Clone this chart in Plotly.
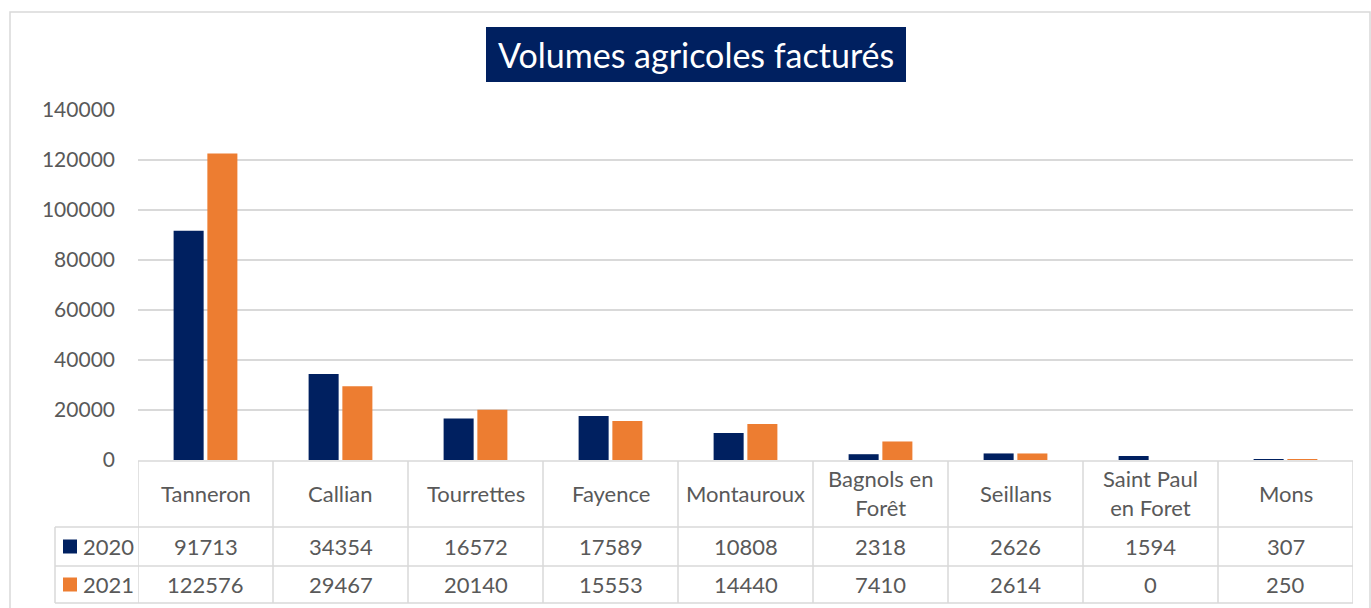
import plotly.graph_objects as go

# Data
communes = ["Tanneron", "Callian", "Tourrettes", "Fayence", "Montauroux",
            "Bagnols en<br>Forêt", "Seillans", "Saint Paul<br>en Foret", "Mons"]
years = ["2020", "2021"]
vol_2020 = [91713, 34354, 16572, 17589, 10808, 2318, 2626, 1594, 307]
vol_2021 = [122576, 29467, 20140, 15553, 14440, 7410, 2614, 0, 250]
y_ticks = [0, 20000, 40000, 60000, 80000, 100000, 120000, 140000]

NAVY = "#002060"
ORANGE = "#ED7D31"
GRID = "#D9D9D9"
TEXT = "#595959"
FONT = "Lato"

W, H = 1371, 608
L, R, T, B = 138, 18, 110, 148
PW, PH = W - L - R, H - T - B


def px(x):
    return (x - L) / PW


def py(y):
    return (H - B - y) / PH


cats = list(range(len(communes)))

fig = go.Figure()
fig.add_trace(go.Bar(x=cats, y=vol_2020, name=years[0], marker_color=NAVY,
                     marker_line_width=0))
fig.add_trace(go.Bar(x=cats, y=vol_2021, name=years[1], marker_color=ORANGE,
                     marker_line_width=0))

shapes = []
annotations = []

# Chart frame
shapes.append(dict(type="rect", xref="paper", yref="paper",
                   x0=px(10), x1=px(1370), y0=py(640), y1=py(12),
                   line=dict(color=GRID, width=1.5), layer="below"))

# Title box
shapes.append(dict(type="rect", xref="paper", yref="paper",
                   x0=px(486), x1=px(906), y0=py(82), y1=py(27),
                   fillcolor=NAVY, line=dict(width=0)))
annotations.append(dict(text="Volumes agricoles facturés", xref="paper", yref="paper",
                        x=px(696), y=py(55), showarrow=False,
                        font=dict(family=FONT, size=34, color="white"),
                        xanchor="center", yanchor="middle"))

# Data table grid
line = dict(color=GRID, width=1.5)
row_top, row_hdr, row_a, row_b = 461, 527, 566, 603
col_left, leg_left = 138, 55
shapes.append(dict(type="line", xref="paper", yref="paper",
                   x0=px(col_left), x1=1, y0=py(row_top), y1=py(row_top), line=line))
for yy in (row_hdr, row_a, row_b):
    shapes.append(dict(type="line", xref="paper", yref="paper",
                       x0=px(leg_left), x1=1, y0=py(yy), y1=py(yy), line=line))
shapes.append(dict(type="line", xref="paper", yref="paper",
                   x0=px(leg_left), x1=px(leg_left), y0=py(row_hdr), y1=py(row_b), line=line))
for i in range(len(communes) + 1):
    shapes.append(dict(type="line", xref="x", yref="paper",
                       x0=i - 0.5, x1=i - 0.5, y0=py(row_top), y1=py(row_b), line=line))

tfont = dict(family=FONT, size=22, color=TEXT)
for i, name in enumerate(communes):
    annotations.append(dict(text=name, xref="x", yref="paper", x=i, y=py((row_top + row_hdr) / 2 - 1),
                            showarrow=False, font=tfont, xanchor="center", yanchor="middle"))
    annotations.append(dict(text=str(vol_2020[i]), xref="x", yref="paper", x=i,
                            y=py((row_hdr + row_a) / 2), showarrow=False, font=tfont,
                            xanchor="center", yanchor="middle"))
    annotations.append(dict(text=str(vol_2021[i]), xref="x", yref="paper", x=i,
                            y=py((row_a + row_b) / 2), showarrow=False, font=tfont,
                            xanchor="center", yanchor="middle"))

# Legend keys inside the table
for (y0, y1), yr, col in (((row_hdr, row_a), years[0], NAVY), ((row_a, row_b), years[1], ORANGE)):
    yc = (y0 + y1) / 2
    shapes.append(dict(type="rect", xref="paper", yref="paper",
                       x0=px(63), x1=px(77), y0=py(yc + 7), y1=py(yc - 7),
                       fillcolor=col, line=dict(width=0)))
    annotations.append(dict(text=yr, xref="paper", yref="paper", x=px(81), y=py(yc),
                            showarrow=False, font=tfont, xanchor="left", yanchor="middle"))

fig.update_layout(
    width=W, height=H,
    margin=dict(l=L, r=R, t=T, b=B),
    paper_bgcolor="white", plot_bgcolor="white",
    barmode="group", bargap=0.5, bargroupgap=0.11,
    showlegend=False,
    shapes=shapes, annotations=annotations,
    font=dict(family=FONT, color=TEXT),
)
fig.update_xaxes(range=[-0.5, len(communes) - 0.5], showticklabels=False,
                 showgrid=False, zeroline=False, showline=False, fixedrange=True)
fig.update_yaxes(range=[0, 140000], tickvals=y_ticks, ticktext=[str(v) for v in y_ticks],
                 showgrid=True, gridcolor=GRID, gridwidth=1.5, zeroline=False,
                 showline=False, ticks="", ticklabelstandoff=22,
                 tickfont=dict(family=FONT, size=21, color=TEXT), fixedrange=True)

fig.write_html("out.html")
